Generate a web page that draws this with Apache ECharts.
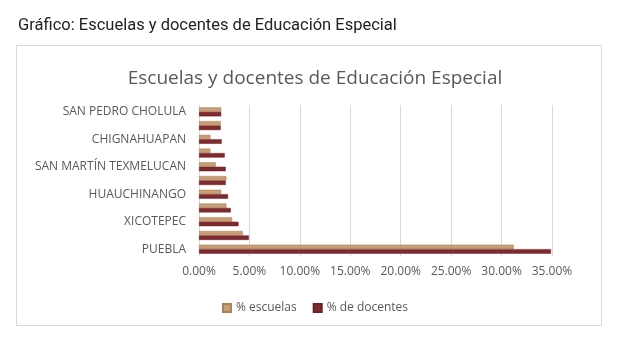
<!DOCTYPE html>
<html>
<head>
<meta charset="utf-8">
<script src="https://cdn.jsdelivr.net/npm/echarts@6/dist/echarts.min.js"></script>
<style>
  html, body { margin: 0; padding: 0; background: #ffffff; }
  #chart { width: 630px; height: 348px; }
</style>
</head>
<body>
<div id="chart"></div>
<script>
// Municipalities, bottom to top on the category axis
const municipios = [
  'PUEBLA', 'TEHUACÁN', 'XICOTEPEC', 'TEZIUTLÁN', 'HUAUCHINANGO', 'ATLIXCO',
  'SAN MARTÍN TEXMELUCAN', 'ZACATLÁN', 'CHIGNAHUAPAN', 'IZÚCAR DE MATAMOROS', 'SAN PEDRO CHOLULA'
];
// Share of special-education schools (%)
const pctEscuelas = [31.2, 4.34, 3.28, 2.72, 2.2, 2.72, 1.66, 1.13, 1.13, 2.15, 2.2];
// Share of special-education teachers (%)
const pctDocentes = [34.9, 4.94, 3.92, 3.15, 2.88, 2.65, 2.65, 2.55, 2.25, 2.15, 2.2];
const xTicks = { min: 0, max: 35, interval: 5 };

const chart = echarts.init(document.getElementById('chart'));
const font = '"Open Sans", "Noto Sans", sans-serif';

chart.setOption({
  backgroundColor: '#ffffff',
  animation: false,
  title: [
    {
      text: 'Gráfico: Escuelas y docentes de Educación Especial',
      left: 13, top: 12,
      textStyle: { fontFamily: 'Roboto, sans-serif', fontSize: 16.5, fontWeight: 'normal', color: '#222222' }
    },
    {
      text: 'Escuelas y docentes de Educación Especial',
      left: 'center', top: 64,
      textStyle: { fontFamily: font, fontSize: 19, fontWeight: 'normal', color: '#595959' }
    }
  ],
  graphic: [{
    type: 'rect',
    shape: { x: 16.5, y: 45.5, width: 585, height: 280 },
    style: { fill: 'none', stroke: '#d9d9d9', lineWidth: 1 },
    silent: true, z: -1
  }],
  legend: {
    bottom: 29, left: 'center',
    itemWidth: 8, itemHeight: 8, itemGap: 16,
    icon: 'rect',
    textStyle: { fontFamily: font, fontSize: 12, color: '#595959' },
    data: ['% escuelas', '% de docentes']
  },
  grid: { left: 199, right: 78, top: 105, bottom: 92 },
  xAxis: {
    type: 'value',
    min: xTicks.min, max: xTicks.max, interval: xTicks.interval,
    axisLine: { show: false },
    axisTick: { show: false },
    splitLine: { lineStyle: { color: '#d9d9d9', width: 1 } },
    axisLabel: {
      margin: 10,
      fontFamily: font, fontSize: 12, color: '#595959',
      formatter: v => v.toFixed(2) + '%'
    }
  },
  yAxis: {
    type: 'category',
    data: municipios,
    axisLine: { show: false },
    axisTick: { show: false },
    axisLabel: { interval: 1, margin: 13, fontFamily: font, fontSize: 12, color: '#595959' }
  },
  series: [
    {
      name: '% escuelas', type: 'bar', data: pctEscuelas,
      barWidth: 4.5, barGap: '0%',
      itemStyle: { color: '#c79e73', borderColor: '#a9805a', borderWidth: 0.5 }
    },
    {
      name: '% de docentes', type: 'bar', data: pctDocentes,
      barWidth: 4.5, barGap: '0%',
      itemStyle: { color: '#7f2a2e', borderColor: '#6a2226', borderWidth: 0.5 }
    }
  ]
});
</script>
</body>
</html>
